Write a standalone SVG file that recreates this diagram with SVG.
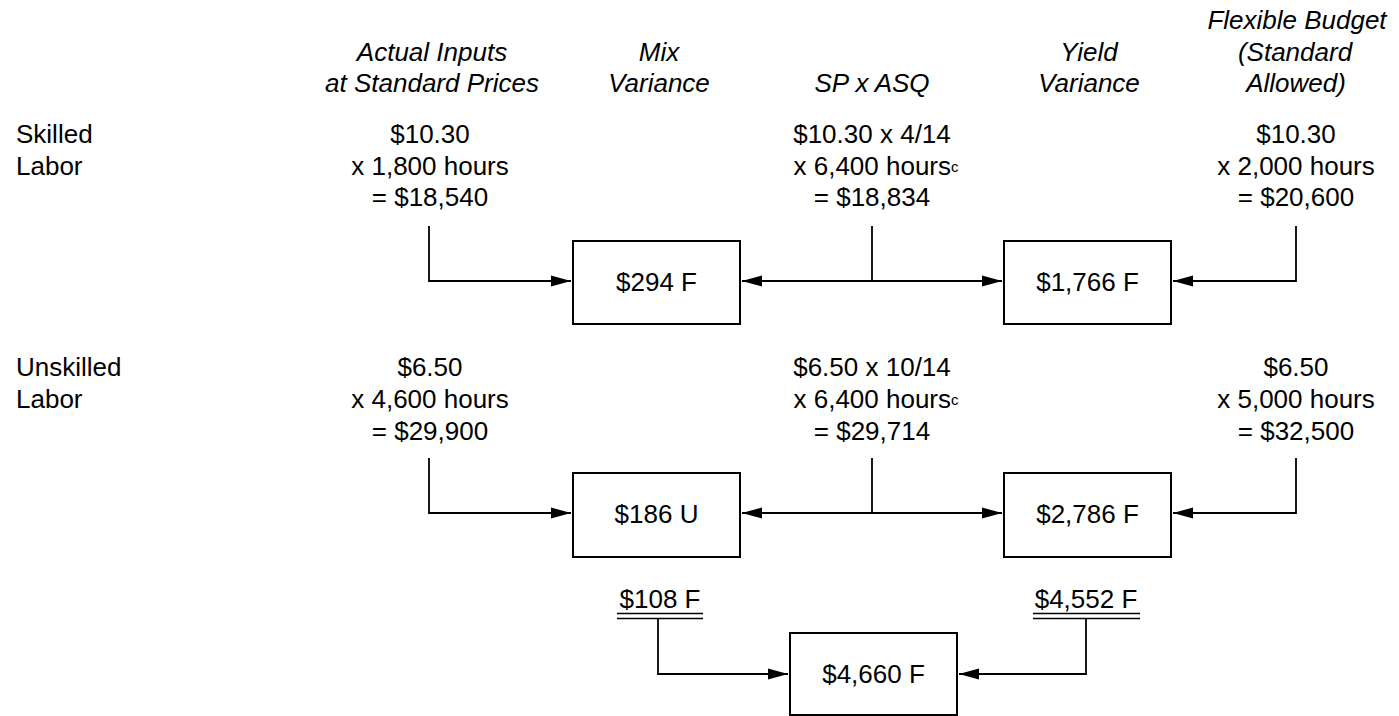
<svg xmlns="http://www.w3.org/2000/svg" width="1399" height="716" viewBox="0 0 1399 716">
<style>
text{font-family:"Liberation Sans",Arial,sans-serif;font-size:26px;fill:#000}
.h{font-style:italic;text-anchor:middle}
.c{text-anchor:middle}
.l{text-anchor:start}
.b{text-anchor:middle}
.sup{font-size:15px}
.box{fill:#fff;stroke:#000;stroke-width:2}
.con{fill:none;stroke:#000;stroke-width:1.8}
.ul{stroke:#000;stroke-width:1.4}
</style>
<defs>
<marker id="ah" markerUnits="userSpaceOnUse" markerWidth="22" markerHeight="12" refX="20" refY="6" orient="auto-start-reverse">
<path d="M0,0.5 L20,6 L0,11.5 Z" fill="#000"/>
</marker>
</defs>
<rect width="1399" height="716" fill="#fff"/>

<g id="headers">
<text class="h" x="432" y="61">Actual Inputs</text>
<text class="h" x="432" y="92">at Standard Prices</text>
<text class="h" x="659" y="61">Mix</text>
<text class="h" x="659" y="92">Variance</text>
<text class="h" x="872" y="92">SP x ASQ</text>
<text class="h" x="1089" y="61">Yield</text>
<text class="h" x="1089" y="92">Variance</text>
<text class="h" x="1297" y="29">Flexible Budget</text>
<text class="h" x="1295" y="61">(Standard</text>
<text class="h" x="1296" y="92">Allowed)</text>
</g>

<g id="row-labels">
<text class="l" x="16" y="143">Skilled</text>
<text class="l" x="16" y="175">Labor</text>
<text class="l" x="16" y="376">Unskilled</text>
<text class="l" x="16" y="408">Labor</text>
</g>

<g id="skilled-actual">
<text class="c" x="430" y="143">$10.30</text>
<text class="c" x="430" y="175">x 1,800 hours</text>
<text class="c" x="430" y="206">= $18,540</text>
</g>
<g id="skilled-spasq">
<text class="c" x="872" y="143">$10.30 x 4/14</text>
<text class="c" x="876" y="175">x 6,400 hours<tspan class="sup" dy="-3">c</tspan></text>
<text class="c" x="872" y="206">= $18,834</text>
</g>
<g id="skilled-flex">
<text class="c" x="1296" y="143">$10.30</text>
<text class="c" x="1296" y="175">x 2,000 hours</text>
<text class="c" x="1296" y="206">= $20,600</text>
</g>

<g id="unskilled-actual">
<text class="c" x="430" y="376">$6.50</text>
<text class="c" x="430" y="408">x 4,600 hours</text>
<text class="c" x="430" y="440">= $29,900</text>
</g>
<g id="unskilled-spasq">
<text class="c" x="872" y="376">$6.50 x 10/14</text>
<text class="c" x="876" y="408">x 6,400 hours<tspan class="sup" dy="-3">c</tspan></text>
<text class="c" x="872" y="440">= $29,714</text>
</g>
<g id="unskilled-flex">
<text class="c" x="1296" y="376">$6.50</text>
<text class="c" x="1296" y="408">x 5,000 hours</text>
<text class="c" x="1296" y="440">= $32,500</text>
</g>

<g id="connectors">
<path class="con" d="M429,226 V281 H571" marker-end="url(#ah)"/>
<path class="con" d="M872,226 V281"/>
<path class="con" d="M742,281 H1002" marker-start="url(#ah)" marker-end="url(#ah)"/>
<path class="con" d="M1296,226 V281 H1173" marker-end="url(#ah)"/>
<path class="con" d="M429,458 V513 H571" marker-end="url(#ah)"/>
<path class="con" d="M872,458 V513"/>
<path class="con" d="M742,513 H1002" marker-start="url(#ah)" marker-end="url(#ah)"/>
<path class="con" d="M1296,458 V513 H1173" marker-end="url(#ah)"/>
<path class="con" d="M658,619 V674 H788" marker-end="url(#ah)"/>
<path class="con" d="M1086,619 V674 H959" marker-end="url(#ah)"/>
</g>

<g id="mix-skilled">
<rect class="box" x="573" y="241" width="167" height="83"/>
<text class="b" x="656.5" y="291">$294 F</text>
</g>
<g id="yield-skilled">
<rect class="box" x="1004" y="241" width="167" height="83"/>
<text class="b" x="1087.5" y="291">$1,766 F</text>
</g>
<g id="mix-unskilled">
<rect class="box" x="573" y="473" width="167" height="84"/>
<text class="b" x="656.5" y="523">$186 U</text>
</g>
<g id="yield-unskilled">
<rect class="box" x="1004" y="473" width="167" height="84"/>
<text class="b" x="1087.5" y="523">$2,786 F</text>
</g>

<g id="mix-total">
<text class="b" x="660" y="608">$108 F</text>
<line class="ul" x1="617" y1="613.5" x2="703" y2="613.5"/>
<line class="ul" x1="617" y1="618.5" x2="703" y2="618.5"/>
</g>
<g id="yield-total">
<text class="b" x="1086" y="608">$4,552 F</text>
<line class="ul" x1="1033" y1="613.5" x2="1140" y2="613.5"/>
<line class="ul" x1="1033" y1="618.5" x2="1140" y2="618.5"/>
</g>
<g id="total">
<rect class="box" x="790" y="633" width="167" height="82"/>
<text class="b" x="873.5" y="683">$4,660 F</text>
</g>
</svg>
